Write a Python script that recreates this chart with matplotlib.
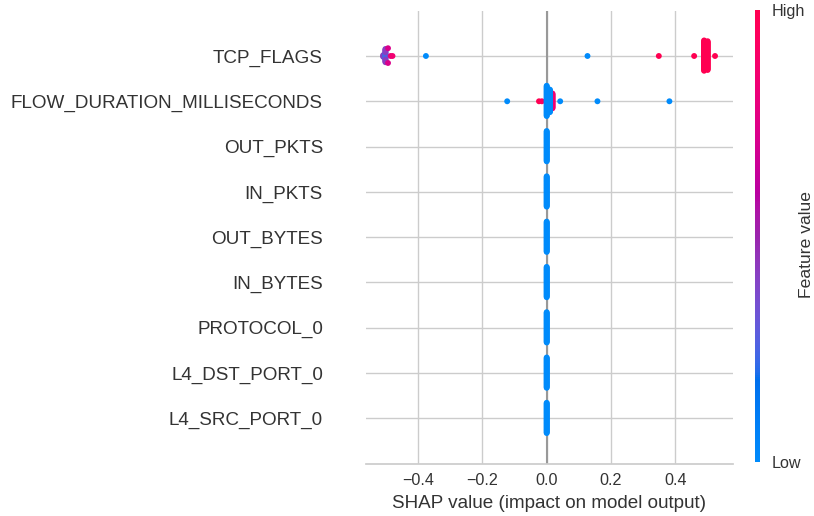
import numpy as np
import matplotlib
matplotlib.use("Agg")
import matplotlib.pyplot as plt
from matplotlib.colors import LinearSegmentedColormap, Normalize
from matplotlib.colorbar import ColorbarBase

plt.rcParams['font.family'] = ['Liberation Sans', 'DejaVu Sans']

# ---------------- data ----------------
features = ["TCP_FLAGS", "FLOW_DURATION_MILLISECONDS", "OUT_PKTS", "IN_PKTS",
            "OUT_BYTES", "IN_BYTES", "PROTOCOL_0", "L4_DST_PORT_0", "L4_SRC_PORT_0"]

# per feature: SHAP values, normalised feature value (0=low, 1=high), number of points
tcp_shap = [-0.509, -0.502, -0.502, -0.494, -0.486, -0.480, -0.376, 0.127, 0.349, 0.459, 0.490, 0.501, 0.524]
tcp_fval = [0.42, 0.25, 0.42, 0.72, 0.80, 0.85, 0.0, 0.0, 1.0, 1.0, 1.0, 1.0, 1.0]
tcp_count = [3, 9, 9, 2, 1, 1, 1, 1, 1, 1, 40, 38, 1]

flow_shap = [-0.123, -0.024, -0.015, 0.018, 0.000, 0.010, 0.042, 0.158, 0.382]
flow_fval = [0.0, 1.0, 0.95, 0.85, 0.0, 0.0, 0.0, 0.0, 0.0]
flow_count = [1, 1, 1, 20, 40, 30, 1, 1, 1]

out_pkts_shap, out_pkts_fval, out_pkts_count = [0.0], [0.0], [40]
in_pkts_shap, in_pkts_fval, in_pkts_count = [0.0], [0.0], [40]
out_bytes_shap, out_bytes_fval, out_bytes_count = [0.0], [0.0], [40]
in_bytes_shap, in_bytes_fval, in_bytes_count = [0.0], [0.0], [40]
protocol_shap, protocol_fval, protocol_count = [0.0], [0.0], [40]
dst_port_shap, dst_port_fval, dst_port_count = [0.0], [0.0], [40]
src_port_shap, src_port_fval, src_port_count = [0.0], [0.0], [40]

rows = [
    (tcp_shap, tcp_fval, tcp_count),
    (flow_shap, flow_fval, flow_count),
    (out_pkts_shap, out_pkts_fval, out_pkts_count),
    (in_pkts_shap, in_pkts_fval, in_pkts_count),
    (out_bytes_shap, out_bytes_fval, out_bytes_count),
    (in_bytes_shap, in_bytes_fval, in_bytes_count),
    (protocol_shap, protocol_fval, protocol_count),
    (dst_port_shap, dst_port_fval, dst_port_count),
    (src_port_shap, src_port_fval, src_port_count),
]

xticks = [-0.4, -0.2, 0.0, 0.2, 0.4]


# ---------------- SHAP red_blue colormap (LCH interpolation) ----------------
def lch2rgb(l, c, h):
    a = c * np.cos(h)
    b = c * np.sin(h)
    fy = (l + 16.0) / 116.0
    fx = fy + a / 500.0
    fz = max(fy - b / 200.0, 0.0)

    def finv(t):
        return t ** 3 if t > 0.2068966 else (t - 16.0 / 116.0) / 7.787

    xyz = np.array([0.95047 * finv(fx), 1.0 * finv(fy), 1.08883 * finv(fz)])
    M = np.array([[3.24048134, -1.53715152, -0.49853633],
                  [-0.96925495, 1.87599, 0.04155593],
                  [0.05564664, -0.20404134, 1.05731107]])
    rgb = M @ xyz
    rgb = np.where(rgb > 0.0031308,
                   1.055 * np.power(np.clip(rgb, 0, None), 1 / 2.4) - 0.055,
                   12.92 * rgb)
    return np.clip(rgb, 0, 1)


blue_lch = [54., 70., 4.6588]
l_mid = 40.
red_lch = [54., 90., 0.35470565 + 2 * np.pi]
nsteps = 100
l_vals = list(np.linspace(blue_lch[0], l_mid, nsteps // 2)) + list(np.linspace(l_mid, red_lch[0], nsteps // 2))
c_vals = np.linspace(blue_lch[1], red_lch[1], nsteps)
h_vals = np.linspace(blue_lch[2], red_lch[2], nsteps)
cols = [lch2rgb(l, c, h) for l, c, h in zip(l_vals, c_vals, h_vals)]
red_blue = LinearSegmentedColormap.from_list("red_blue", cols)


# ---------------- beeswarm layout (as in shap) ----------------
def expand(shap, fval, count):
    v, f, key = [], [], []
    for g, (s, fv, n) in enumerate(zip(shap, fval, count)):
        for k in range(n):
            v.append(s)
            f.append(fv)
            key.append(g * 1000 + k)
    return np.array(v), np.array(f), np.array(key)


def swarm(vals, key, row_height=0.4, nbins=100):
    rng = vals.max() - vals.min()
    quant = np.round(nbins * (vals - vals.min()) / (rng + 1e-8))
    inds = np.lexsort((key, quant))
    ys = np.zeros(len(vals))
    layer, last = 0, None
    for ind in inds:
        if quant[ind] != last:
            layer = 0
        ys[ind] = np.ceil(layer / 2) * ((layer % 2) * 2 - 1)
        layer += 1
        last = quant[ind]
    ys *= 0.9 * (row_height / np.max(ys + 1))
    return ys


# ---------------- figure ----------------
W, H = 814, 516
fig = plt.figure(figsize=(W / 100, H / 100), dpi=100)
fig.patch.set_facecolor("white")
ax = fig.add_axes([366 / W, 1 - 463.6 / H, (732.7 - 366) / W, (463.6 - 10.7) / H])
ax.set_facecolor("white")

n = len(features)
for i, (shap, fval, count) in enumerate(rows):
    pos = n - 1 - i
    v, f, key = expand(shap, fval, count)
    ys = swarm(v, key)
    ax.scatter(v, pos + ys, c=red_blue(f), s=18, linewidth=0, zorder=3)

ax.axvline(0, color="#999999", lw=1.5, zorder=2)
ax.set_xlim(-0.5625, 0.579)
ax.set_ylim(-1, n)
ax.set_yticks(range(n))
ax.set_yticklabels(features[::-1], fontsize=13.6, color="#333333")
ax.set_xticks(xticks)
ax.set_xticklabels([f"{t:.1f}".replace("-", "\u2212") for t in xticks], fontsize=11.6, color="#333333")
ax.tick_params(axis="y", length=0, pad=31)
ax.tick_params(axis="x", length=0, pad=7)
ax.grid(True, color="#cccccc", lw=1.0, zorder=0)
ax.set_axisbelow(True)
for s in ["top", "right", "left"]:
    ax.spines[s].set_visible(False)
ax.spines["bottom"].set_color("#cccccc")
ax.spines["bottom"].set_linewidth(1.25)

ax.set_xlabel("SHAP value (impact on model output)", fontsize=13.6, color="#333333")
ax.xaxis.set_label_coords(0.5, (463.6 - 503) / (463.6 - 10.7))
ax.xaxis.label.set_va("center")

# colorbar
cax = fig.add_axes([754.7 / W, 1 - 461.7 / H, 5.6 / W, (461.7 - 10) / H])
cb = ColorbarBase(cax, cmap=red_blue, norm=Normalize(0, 1), ticks=[0, 1])
cb.set_ticklabels(["Low", "High"])
cb.outline.set_visible(False)
cax.tick_params(labelsize=11.6, length=0, pad=8, labelcolor="#333333")
cb.set_label("Feature value", size=12.6, color="#333333", labelpad=0)
cax.yaxis.set_label_coords((806.7 - 754.7) / 5.6, 0.48)
cax.yaxis.label.set_va("center")

fig.savefig("out.png", dpi=100, facecolor="white")
